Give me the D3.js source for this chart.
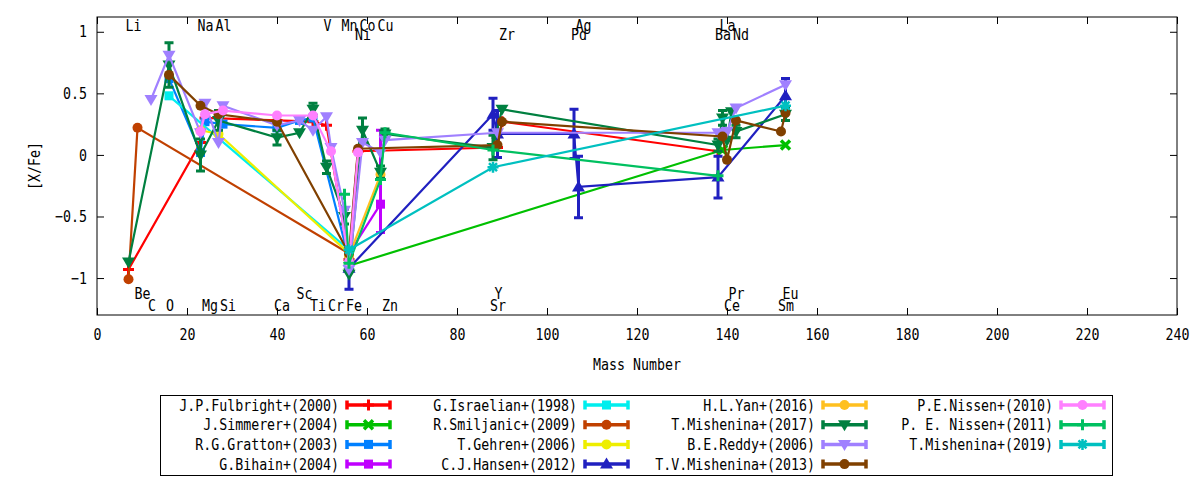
<!DOCTYPE html>
<html>
<head>
<meta charset="utf-8">
<script src="https://cdn.jsdelivr.net/npm/d3@7"></script>
<style>
  body { margin: 0; background: #fff; }
</style>
</head>
<body>
<svg id="chart" width="1200" height="480"></svg>
<script>
// elements and their mass numbers (x values)
const elements    = ["Li","Be","C","O","Na","Mg","Al","Si","Ca","Sc","Ti","V","Cr","Mn","Fe","Ni","Co","Cu","Zn","Sr","Y","Zr","Pd","Ag","Ba","La","Ce","Pr","Nd","Sm","Eu"];
const massNumbers = [7,9,12,16,23,24,27,28,40,45,48,51,52,55,56,58,59,63,64,88,89,90,106,107,138,139,140,141,142,152,153];

const xTicks = [0,20,40,60,80,100,120,140,160,180,200,220,240];
const yTicks = [-1,-0.5,0,0.5,1];

// points: [element, [X/Fe], error]  error = symmetric value or [low, high]
const fulbright2000 = [["Li",-0.93],["Na",0.10],["Mg",0.30],["Ca",0.28],["Ti",0.27],["V",0.24],["Fe",-0.85],["Ni",0.03],["Y",0.06],["Zr",0.27],["Ba",0.03]];
const simmerer2004  = [["Fe",-0.90],["La",0.04],["Eu",0.08]];
const gratton2003   = [["O",0.62],["Na",0.02],["Mg",0.27],["Si",0.25],["Ca",0.22],["Sc",0.28],["Ti",0.30],["Fe",-0.85]];
const bihain2004    = [["Fe",-0.80],["Cu",-0.40,[-0.63,0.20]]];
const israelian1998 = [["O",0.48],["Fe",-0.77]];
const smiljanic2009 = [["Li",-1.01],["Be",0.22],["Fe",-0.80]];
const gehren2006    = [["Na",0.20],["Al",0.17],["Fe",-0.80]];
const hansen2012    = [["Fe",-0.92,0.17],["Sr",0.33,0.13],["Y",0.17,0.19],["Pd",0.17,0.20],["Ag",-0.26,0.25],["Ba",-0.18,0.17],["Eu",0.48,0.14]];
const yan2016       = [["Fe",-0.82],["Cu",-0.16]];
const mishenina2017 = [["Li",-0.87],["O",0.73,0.18],["Na",0.00,0.13],["Al",0.28,0.08],["Ca",0.14,0.06],["Sc",0.18],["Ti",0.37,0.05],["V",-0.10,0.05],["Mn",-0.50,0.06],["Fe",-0.97],["Co",0.20,0.10],["Cu",-0.14,0.05],["Zn",0.17,0.04],["Sr",0.06,0.10],["Zr",0.37],["Ba",0.08,0.05],["La",0.30,0.06],["Ce",0.12],["Pr",0.35],["Nd",0.19,0.05],["Eu",0.33,0.05]];
const reddy2006     = [["C",0.45],["O",0.81],["Na",0.18],["Mg",0.42],["Al",0.10],["Si",0.40],["Ca",0.24],["Sc",0.28],["Ti",0.20],["V",0.31],["Cr",0.06],["Mn",-0.45],["Fe",-0.93],["Co",0.10],["Cu",0.02],["Zn",0.12],["Y",0.18],["Ba",0.18],["Ce",0.19],["Nd",0.38],["Eu",0.57]];
const tvMishenina2013 = [["O",0.65],["Na",0.40],["Al",0.33],["Ca",0.27],["Fe",-0.80],["Ni",0.05],["Y",0.08],["Zr",0.27],["La",0.15],["Ce",-0.04],["Nd",0.28],["Sm",0.19],["Eu",0.34]];
const nissen2010    = [["Na",0.19],["Mg",0.33],["Si",0.36],["Ca",0.32],["Ti",0.32],["Cr",0.03],["Fe",-0.87],["Ni",0.02]];
const nissen2011    = [["Mn",-0.32],["Fe",-0.88],["Cu",-0.20],["Zn",0.18],["Sr",0.04],["Ba",-0.17]];
const mishenina2019 = [["Fe",-0.77],["Sr",-0.10],["Eu",0.40]];

const seriesNames = ["J.P.Fulbright+(2000)","J.Simmerer+(2004)","R.G.Gratton+(2003)","G.Bihain+(2004)",
  "G.Israelian+(1998)","R.Smiljanic+(2009)","T.Gehren+(2006)","C.J.Hansen+(2012)",
  "H.L.Yan+(2016)","T.Mishenina+(2017)","B.E.Reddy+(2006)","T.V.Mishenina+(2013)",
  "P.E.Nissen+(2010)","P. E. Nissen+(2011)","T.Mishenina+(2019)"];

// styles
const series = [
  {data: fulbright2000,  color: "#ff0000", marker: "plus"},
  {data: simmerer2004,   color: "#00c000", marker: "cross"},
  {data: gratton2003,    color: "#0080ff", marker: "square"},
  {data: bihain2004,     color: "#c000ff", marker: "square"},
  {data: israelian1998,  color: "#00eeee", marker: "square"},
  {data: smiljanic2009,  color: "#c04000", marker: "circle"},
  {data: gehren2006,     color: "#eeee00", marker: "circle"},
  {data: hansen2012,     color: "#2020c0", marker: "triUp"},
  {data: yan2016,        color: "#ffc020", marker: "circle"},
  {data: mishenina2017,  color: "#008040", marker: "triDown"},
  {data: reddy2006,      color: "#a080ff", marker: "triDown"},
  {data: tvMishenina2013,color: "#804000", marker: "circle"},
  {data: nissen2010,     color: "#ff80ff", marker: "circle"},
  {data: nissen2011,     color: "#00c060", marker: "plus"},
  {data: mishenina2019,  color: "#00c0c0", marker: "star"}
];
series.forEach((s, i) => s.name = seriesNames[i]);

const massOf = new Map(elements.map((e, i) => [e, massNumbers[i]]));

// label rows of the element names (top1, top2, bottom1, bottom2)
const labelRow = {
  Li:0, Na:0, Al:0, V:0, Mn:0, Co:0, Cu:0, Ag:0, La:0,
  Ni:1, Zr:1, Pd:1, Ba:1, Nd:1,
  Be:2, Sc:2, Y:2, Pr:2, Eu:2,
  C:3, O:3, Mg:3, Si:3, Ca:3, Ti:3, Cr:3, Fe:3, Zn:3, Sr:3, Ce:3, Sm:3
};
const rowBaseline = [31, 40, 299, 311];

const FONT = "'DejaVu Sans Mono', monospace";
const FS = 16, SQ = 0.83;   // texte un peu compressé comme gnuplot

const plotLeft = 97, plotRight = 1177, plotTop = 17, plotBottom = 315;

const svg = d3.select("#chart");

const x = d3.scaleLinear().domain([0, 240]).range([plotLeft, plotRight]);
const y = d3.scaleLinear().domain([-1.3, 1.12]).range([plotBottom, plotTop]);

function label(g, px, py, str, anchor) {
  return g.append("text")
    .attr("transform", `translate(${px},${py}) scale(${SQ},1)`)
    .attr("text-anchor", anchor || "start")
    .attr("font-family", FONT)
    .attr("font-size", FS)
    .attr("fill", "#000")
    .text(str);
}

// Axes
function styleAxis(g) {
  g.select(".domain").remove();
  g.selectAll("line").attr("stroke", "#000");
  g.attr("font-family", FONT).attr("font-size", FS);
  g.selectAll("text").attr("transform", `scale(${SQ},1)`).attr("fill", "#000");
}

svg.append("g").attr("transform", `translate(0,${plotBottom})`)
  .call(d3.axisBottom(x).tickValues(xTicks).tickSize(-7).tickPadding(14).tickFormat(d3.format("d")))
  .call(styleAxis);
svg.append("g").attr("transform", `translate(0,${plotTop})`)
  .call(d3.axisTop(x).tickValues(xTicks).tickSize(-7).tickFormat(""))
  .call(styleAxis);
svg.append("g").attr("transform", `translate(${plotLeft},0)`)
  .call(d3.axisLeft(y).tickValues(yTicks).tickSize(-7).tickPadding(12).tickFormat(d => d3.format("")(d)))
  .call(styleAxis);
svg.append("g").attr("transform", `translate(${plotRight},0)`)
  .call(d3.axisRight(y).tickValues(yTicks).tickSize(-7).tickFormat(""))
  .call(styleAxis);

svg.append("rect")
  .attr("x", plotLeft).attr("y", plotTop)
  .attr("width", plotRight - plotLeft).attr("height", plotBottom - plotTop)
  .attr("fill", "none").attr("stroke", "#000").attr("stroke-width", 1);

// Axis titles
label(svg, 637, 370, "Mass Number", "middle");
svg.append("text")
  .attr("transform", `translate(40,${(plotTop + plotBottom) / 2}) rotate(-90) scale(${SQ},1)`)
  .attr("text-anchor", "middle")
  .attr("font-family", FONT).attr("font-size", FS)
  .text("[X/Fe]");

// Element names
const elemG = svg.append("g");
elements.forEach(e => {
  label(elemG, x(massOf.get(e)) - 3, rowBaseline[labelRow[e]], e, "start");
});

// markers
function drawMarker(g, type, cx, cy, color) {
  if (type === "circle") {
    g.append("circle").attr("cx", cx).attr("cy", cy).attr("r", 5).attr("fill", color);
  } else if (type === "square") {
    g.append("rect").attr("x", cx - 4.5).attr("y", cy - 4.5).attr("width", 9).attr("height", 9).attr("fill", color);
  } else if (type === "triUp") {
    g.append("path").attr("d", `M${cx},${cy - 6.5}L${cx + 6.5},${cy + 4.5}L${cx - 6.5},${cy + 4.5}Z`).attr("fill", color);
  } else if (type === "triDown") {
    g.append("path").attr("d", `M${cx},${cy + 6.5}L${cx + 6.5},${cy - 4.5}L${cx - 6.5},${cy - 4.5}Z`).attr("fill", color);
  } else if (type === "plus") {
    g.append("path").attr("d", `M${cx - 5.5},${cy}H${cx + 5.5}M${cx},${cy - 5.5}V${cy + 5.5}`)
      .attr("stroke", color).attr("stroke-width", 3).attr("fill", "none");
  } else if (type === "cross") {
    g.append("path").attr("d", `M${cx - 4.5},${cy - 4.5}L${cx + 4.5},${cy + 4.5}M${cx - 4.5},${cy + 4.5}L${cx + 4.5},${cy - 4.5}`)
      .attr("stroke", color).attr("stroke-width", 3.5).attr("fill", "none");
  } else if (type === "star") {
    g.append("path").attr("d", `M${cx - 5.5},${cy}H${cx + 5.5}M${cx},${cy - 5.5}V${cy + 5.5}M${cx - 4},${cy - 4}L${cx + 4},${cy + 4}M${cx - 4},${cy + 4}L${cx + 4},${cy - 4}`)
      .attr("stroke", color).attr("stroke-width", 2.5).attr("fill", "none");
  }
}

function errRange(d) {
  if (d[2] === undefined) return null;
  if (Array.isArray(d[2])) return d[2];
  return [d[1] - d[2], d[1] + d[2]];
}

const line = d3.line()
  .x(d => x(massOf.get(d[0])))
  .y(d => y(d[1]));

const plotG = svg.append("g");
series.forEach(s => {
  const g = plotG.append("g");
  g.append("path")
    .attr("d", line(s.data))
    .attr("fill", "none")
    .attr("stroke", s.color)
    .attr("stroke-width", 2.2);

  // barres d'erreur
  s.data.forEach(d => {
    const r = errRange(d);
    if (!r) return;
    const cx = x(massOf.get(d[0]));
    g.append("path")
      .attr("d", `M${cx},${y(r[0])}V${y(r[1])}M${cx - 4.5},${y(r[0])}H${cx + 4.5}M${cx - 4.5},${y(r[1])}H${cx + 4.5}`)
      .attr("stroke", s.color).attr("stroke-width", 3).attr("fill", "none");
  });

  s.data.forEach(d => drawMarker(g, s.marker, x(massOf.get(d[0])), y(d[1]), s.color));
});

// Legend
const legG = svg.append("g");
legG.append("rect")
  .attr("x", 160.5).attr("y", 395.5).attr("width", 952).attr("height", 80)
  .attr("fill", "#fff").attr("stroke", "#000").attr("stroke-width", 1);

series.forEach((s, i) => {
  const col = Math.floor(i / 4), row = i % 4;
  const tx = 339 + col * 238;
  const cy = 405 + row * 19.7;
  label(legG, tx, cy + 5.5, s.name, "end");
  const x0 = tx + 8, x1 = tx + 51;
  legG.append("path")
    .attr("d", `M${x0},${cy}H${x1}M${x0},${cy - 4.5}V${cy + 4.5}M${x1},${cy - 4.5}V${cy + 4.5}`)
    .attr("stroke", s.color).attr("stroke-width", 3.5).attr("fill", "none");
  drawMarker(legG, s.marker, (x0 + x1) / 2, cy, s.color);
});
</script>
</body>
</html>
